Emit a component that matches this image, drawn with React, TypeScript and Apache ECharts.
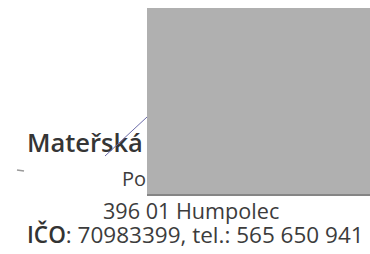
import React, { useEffect, useRef } from "react";
import * as echarts from "echarts";

const lines = ["Mateřská", "Po", "396 01 Humpolec"];
const idLabel = "IČO";
const idRest = ": 70983399, tel.: 565 650 941";

export default function App() {
  const ref = useRef<HTMLDivElement>(null);
  useEffect(() => {
    document.body.style.margin = "0";
    const chart = echarts.init(ref.current!, null, { renderer: "svg" });
    const font = '"Open Sans", "Noto Sans", sans-serif';
    chart.setOption({
      animation: false,
      backgroundColor: "#ffffff",
      graphic: [
        {
          type: "rect",
          shape: { x: 147, y: 8, width: 223, height: 188 },
          style: { fill: "#b0b0b0" },
          z: 10,
        },
        {
          type: "rect",
          shape: { x: 147, y: 194, width: 223, height: 2 },
          style: { fill: "#858585" },
          z: 11,
        },
        {
          type: "line",
          shape: { x1: 147, y1: 117, x2: 105, y2: 156 },
          style: { stroke: "#6b6ba8", lineWidth: 1 },
          z: 12,
        },
        {
          type: "line",
          shape: { x1: 17, y1: 170, x2: 24, y2: 171 },
          style: { stroke: "#9a9a9a", lineWidth: 1.5 },
        },
        {
          type: "text",
          style: {
            text: lines[0],
            x: 27,
            y: 129,
            font: `600 25.5px ${font}`,
            fill: "#353535",
            verticalAlign: "top",
          },
        },
        {
          type: "text",
          style: {
            text: lines[1],
            x: 122,
            y: 168,
            font: `400 20px ${font}`,
            fill: "#3c3c3c",
            verticalAlign: "top",
          },
        },
        {
          type: "text",
          style: {
            text: lines[2],
            x: 103,
            y: 201,
            font: `400 21.6px ${font}`,
            lineHeight: 19,
            fill: "#3c3c3c",
            verticalAlign: "top",
          },
        },
        {
          type: "text",
          style: {
            text: `{b|${idLabel}}{r|${idRest}}`,
            x: 27,
            y: 224.5,
            verticalAlign: "top",
            rich: {
              b: { font: `600 22.5px ${font}`, fill: "#333333", lineHeight: 20 },
              r: { font: `400 22.5px ${font}`, fill: "#3c3c3c", lineHeight: 20 },
            },
          },
        },
      ],
    });
    return () => chart.dispose();
  }, []);
  return (
    <div
      ref={ref}
      style={{ position: "absolute", left: 0, top: 0, width: 370, height: 254 }}
    />
  );
}
